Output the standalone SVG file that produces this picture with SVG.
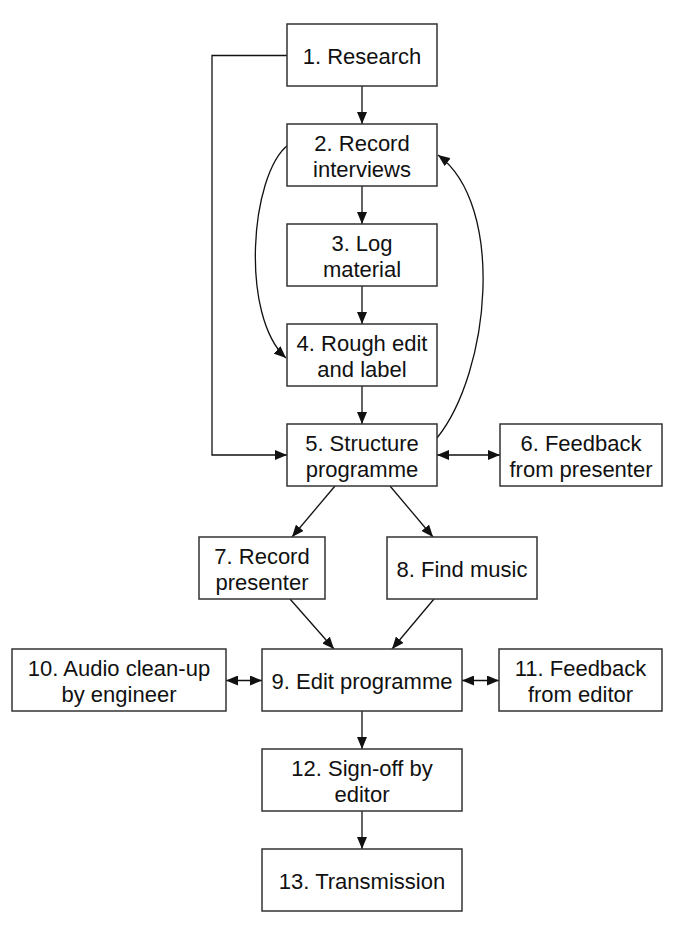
<svg xmlns="http://www.w3.org/2000/svg" width="674" height="930" viewBox="0 0 674 930">
<style>
.box{fill:#fff;stroke:#333;stroke-width:1.5}
.t{font-family:"Liberation Sans",Arial,sans-serif;font-size:22px;fill:#111;text-anchor:middle}
.c{fill:none;stroke:#111;stroke-width:1.3}
</style>
<defs>
<marker id="ah" viewBox="0 0 12 10" refX="12" refY="5" markerWidth="12" markerHeight="10" markerUnits="userSpaceOnUse" orient="auto-start-reverse">
<path d="M0,0 L12,5 L0,10 z" fill="#111"/>
</marker>
</defs>
<rect width="674" height="930" fill="#fff"/>
<g id="connectors">
<line class="c" x1="362" y1="86" x2="362" y2="124" marker-end="url(#ah)"/>
<line class="c" x1="362" y1="186" x2="362" y2="224" marker-end="url(#ah)"/>
<line class="c" x1="362" y1="286" x2="362" y2="324" marker-end="url(#ah)"/>
<line class="c" x1="362" y1="386" x2="362" y2="424" marker-end="url(#ah)"/>
<polyline class="c" points="287,55.5 212,55.5 212,455 287,455" marker-end="url(#ah)"/>
<path class="c" d="M288,145 C250,175 240,316 286,358" marker-end="url(#ah)"/>
<path class="c" d="M437,438 C490,372 506,205 438,155" marker-end="url(#ah)"/>
<line class="c" x1="437" y1="455" x2="500" y2="455" marker-start="url(#ah)" marker-end="url(#ah)"/>
<line class="c" x1="335" y1="486" x2="292" y2="537" marker-end="url(#ah)"/>
<line class="c" x1="390" y1="486" x2="433" y2="537" marker-end="url(#ah)"/>
<line class="c" x1="290" y1="599" x2="334" y2="649" marker-end="url(#ah)"/>
<line class="c" x1="434" y1="599" x2="392" y2="649" marker-end="url(#ah)"/>
<line class="c" x1="226" y1="680.5" x2="262" y2="680.5" marker-start="url(#ah)" marker-end="url(#ah)"/>
<line class="c" x1="462" y1="680.5" x2="499" y2="680.5" marker-start="url(#ah)" marker-end="url(#ah)"/>
<line class="c" x1="362" y1="711" x2="362" y2="749" marker-end="url(#ah)"/>
<line class="c" x1="362" y1="811" x2="362" y2="849" marker-end="url(#ah)"/>
</g>
<g id="n1"><rect class="box" x="287" y="24" width="150" height="62"/><text class="t" x="362" y="63.5">1. Research</text></g>
<g id="n2"><rect class="box" x="287" y="124" width="150" height="62"/><text class="t" x="362" y="151">2. Record</text><text class="t" x="362" y="176.5">interviews</text></g>
<g id="n3"><rect class="box" x="287" y="224" width="150" height="62"/><text class="t" x="362" y="251">3. Log</text><text class="t" x="362" y="276.5">material</text></g>
<g id="n4"><rect class="box" x="287" y="324" width="150" height="62"/><text class="t" x="362" y="351">4. Rough edit</text><text class="t" x="362" y="376.5">and label</text></g>
<g id="n5"><rect class="box" x="287" y="424" width="150" height="62"/><text class="t" x="362" y="451">5. Structure</text><text class="t" x="362" y="476.5">programme</text></g>
<g id="n6"><rect class="box" x="500" y="424" width="162" height="62"/><text class="t" x="581" y="451">6. Feedback</text><text class="t" x="581" y="476.5">from presenter</text></g>
<g id="n7"><rect class="box" x="199" y="537" width="126" height="62"/><text class="t" x="262" y="564">7. Record</text><text class="t" x="262" y="589.5">presenter</text></g>
<g id="n8"><rect class="box" x="387" y="537" width="150" height="62"/><text class="t" x="462" y="576.5">8. Find music</text></g>
<g id="n9"><rect class="box" x="262" y="649" width="200" height="62"/><text class="t" x="362" y="688.5">9. Edit programme</text></g>
<g id="n10"><rect class="box" x="12" y="649" width="214" height="62"/><text class="t" x="119" y="676">10. Audio clean-up</text><text class="t" x="119" y="701.5">by engineer</text></g>
<g id="n11"><rect class="box" x="499" y="649" width="163" height="62"/><text class="t" x="580.5" y="676">11. Feedback</text><text class="t" x="580.5" y="701.5">from editor</text></g>
<g id="n12"><rect class="box" x="262" y="749" width="200" height="62"/><text class="t" x="362" y="776">12. Sign-off by</text><text class="t" x="362" y="801.5">editor</text></g>
<g id="n13"><rect class="box" x="262" y="849" width="200" height="62"/><text class="t" x="362" y="888.5">13. Transmission</text></g>
</svg>
